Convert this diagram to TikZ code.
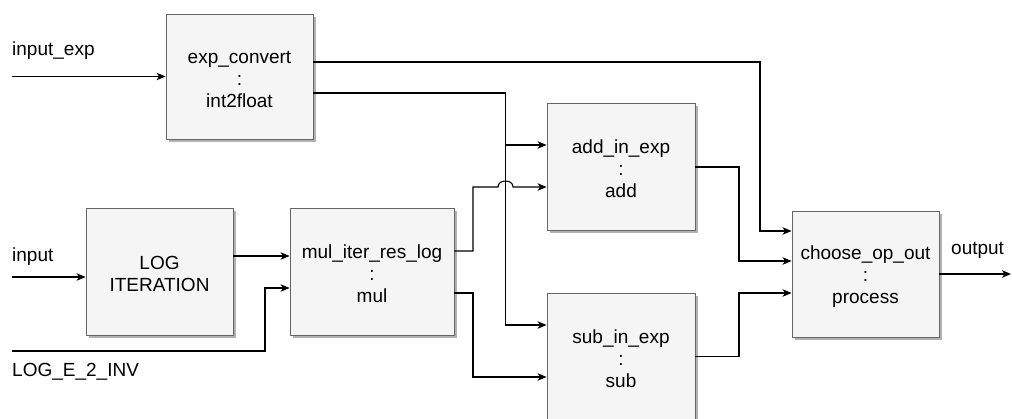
\documentclass[tikz,border=0pt]{standalone}
\usepackage{fontspec}
\setmainfont{Liberation Sans}
\usetikzlibrary{arrows.meta,shadows}
\definecolor{boxfill}{HTML}{F5F5F5}
\definecolor{boxline}{HTML}{666666}
\begin{document}
\begin{tikzpicture}[x=1pt,y=-1pt,
  font=\fontsize{19}{22}\selectfont,
  block/.style={draw=boxline,fill=boxfill,line width=0.9pt,inner sep=0pt,
    drop shadow={shadow xshift=2.5pt,shadow yshift=-2.5pt,fill=black,opacity=0.3}},
  btext/.style={label={[align=center,inner sep=0pt,yshift=-2.5pt]center:#1}},
  wire/.style={line width=1.1pt,draw=black},
  flow/.style={wire,-{Stealth[length=9pt,width=7.5pt,inset=2.5pt]}},
  lbl/.style={inner sep=0pt,anchor=west}]
\useasboundingbox (0,0) rectangle (1012,418);

% processing blocks
\node[block,minimum width=147pt,minimum height=125pt,btext={exp\_convert\\:\\int2float}] (exp) at (239.5,76.5) {};
\node[block,minimum width=147pt,minimum height=127pt,btext={LOG\\ITERATION}] (log) at (159.5,271.5) {};
\node[block,minimum width=164pt,minimum height=127pt,btext={mul\_iter\_res\_log\\:\\mul}] (mul) at (372,271.5) {};
\node[block,minimum width=148pt,minimum height=127pt,btext={add\_in\_exp\\:\\add}] (add) at (621,166.5) {};
\node[block,minimum width=148pt,minimum height=127pt,btext={sub\_in\_exp\\:\\sub}] (sub) at (621,356.5) {};
\node[block,minimum width=147pt,minimum height=126pt,btext={choose\_op\_out\\:\\process}] (choose) at (865.5,274) {};

% signal labels
\node[lbl] (linexp) at (12,51) {input\_exp};
\node[lbl] (linput) at (12,257) {input};
\node[lbl] (lloge) at (12,372) {LOG\_E\_2\_INV};
\node[lbl] (loutput) at (951,250) {output};

% free ends of the external signals
\coordinate (srcexp) at (12,76.5);
\coordinate (srcin) at (12,277);
\coordinate (srcloge) at (12,351);
\coordinate (dstout) at (1011,274);

% inputs
\draw[flow] (srcexp) -- (exp.west);
\draw[flow] (srcin) -- ([yshift=-5.5pt]log.west);
\draw[flow] ([yshift=15.5pt]log.east) -- ([yshift=15.5pt]mul.west);
\draw[flow] (srcloge) -- (265,351) -- (265,288) -- ([yshift=-16.5pt]mul.west);

% exponent paths
\draw[flow] ([yshift=14.5pt]exp.east) -- (760,62) -- (760,231) -- ([yshift=43pt]choose.west);
\draw[flow] ([yshift=-16.5pt]exp.east) -- (505.5,93) -- (505.5,325) -- ([yshift=31.5pt]sub.west);
\draw[flow] (505.5,145) -- ([yshift=21.5pt]add.west);

% multiplier outputs
\draw[flow] ([yshift=20.5pt]mul.east) -- (473,251) -- (473,187) -- (498,187)
  .. controls (498,179) and (513,179) .. (513,187) -- ([yshift=-20.5pt]add.west);
\draw[flow] ([yshift=-21.5pt]mul.east) -- (473,293) -- (473,377) -- ([yshift=-20.5pt]sub.west);

% results into the selector
\draw[flow] ([yshift=-0.5pt]add.east) -- (739,167) -- (739,261) -- ([yshift=13pt]choose.west);
\draw[flow] (sub.east) -- (739,356.5) -- (739,293) -- ([yshift=-19pt]choose.west);
\draw[flow] (choose.east) -- (dstout);
\end{tikzpicture}
\end{document}
